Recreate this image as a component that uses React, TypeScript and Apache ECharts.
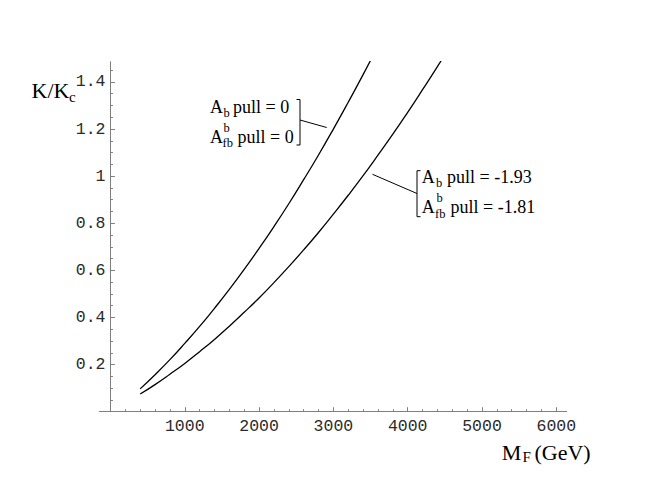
import React, { useEffect, useRef } from "react";
import * as echarts from "echarts";

// Curve "A_b pull = 0, A_fb^b pull = 0"
const massGeVPull0 = [400, 600, 800, 1000, 1200, 1400, 1600, 1800, 2000, 2200, 2400, 2600, 2800, 3000, 3200, 3400, 3600];
const kRatioPull0 = [0.097, 0.157, 0.221, 0.29, 0.362, 0.439, 0.519, 0.604, 0.693, 0.786, 0.883, 0.985, 1.09, 1.2, 1.314, 1.431, 1.553];

// Curve "A_b pull = -1.93, A_fb^b pull = -1.81"
const massGeVPullFit = [400, 600, 800, 1000, 1200, 1400, 1600, 1800, 2000, 2200, 2400, 2600, 2800, 3000, 3200, 3400, 3600, 3800, 4000, 4200, 4400, 4600];
const kRatioPullFit = [0.075, 0.115, 0.159, 0.205, 0.255, 0.307, 0.363, 0.422, 0.483, 0.548, 0.616, 0.687, 0.761, 0.839, 0.919, 1.002, 1.089, 1.178, 1.271, 1.367, 1.465, 1.567];

// Axis ticks
const xMajorTicks = [1000, 2000, 3000, 4000, 5000, 6000];
const xMinorTicks = [200, 400, 600, 800, 1200, 1400, 1600, 1800, 2200, 2400, 2600, 2800, 3200, 3400, 3600, 3800, 4200, 4400, 4600, 4800, 5200, 5400, 5600, 5800];
const yMajorTicks = [0.2, 0.4, 0.6, 0.8, 1, 1.2, 1.4];
const yMinorTicks = [0.05, 0.1, 0.15, 0.25, 0.3, 0.35, 0.45, 0.5, 0.55, 0.65, 0.7, 0.75, 0.85, 0.9, 0.95, 1.05, 1.1, 1.15, 1.25, 1.3, 1.35, 1.45];

const X_MIN = -150;
const X_MAX = 6140;
const Y_MIN = 0;
const Y_MAX = 1.486;

const GRID_LEFT = 99.3;
const GRID_WIDTH = 467.4;
// y axis sits at x = 0, inside the grid
const Y_AXIS_OFFSET = -((0 - X_MIN) / (X_MAX - X_MIN)) * GRID_WIDTH;

const AXIS_COLOR = "#808080";
const MONO = "'Liberation Mono', 'DejaVu Sans Mono', monospace";
const SERIF = "'Liberation Serif', 'DejaVu Serif', serif";

function txt(text: string, x: number, baseline: number, size: number) {
  return {
    type: "text",
    x,
    y: baseline - 0.34 * size,
    silent: true,
    style: {
      text,
      fill: "#000",
      font: `${size}px ${SERIF}`,
      textAlign: "left",
      textVerticalAlign: "middle",
    },
  };
}

function poly(points: number[][]) {
  return {
    type: "polyline",
    silent: true,
    shape: { points },
    style: { stroke: "#000", lineWidth: 1, fill: null },
  };
}

const plain = (v: number) => String(v);

export default function App() {
  const ref = useRef<HTMLDivElement>(null);

  useEffect(() => {
    if (!ref.current) return;
    const chart = echarts.init(ref.current, null, { renderer: "svg" });

    const mainFont = 18;
    const subFont = 12.5;
    const tickFont = { fontFamily: MONO, fontSize: 16.5, color: "#2a2a2a" };

    const option: any = {
      animation: false,
      backgroundColor: "#fff",
      grid: {
        left: GRID_LEFT,
        top: 61.7,
        width: GRID_WIDTH,
        height: 350,
        containLabel: false,
        outerBoundsMode: "none",
      },
      xAxis: [
        {
          type: "value",
          min: X_MIN,
          max: X_MAX,
          position: "bottom",
          axisLine: { show: true, onZero: false, lineStyle: { color: AXIS_COLOR, width: 1 } },
          axisTick: { show: true, inside: true, length: 4.5, customValues: xMajorTicks, lineStyle: { color: AXIS_COLOR, width: 1 } },
          axisLabel: { show: true, customValues: xMajorTicks, formatter: plain, margin: 6, ...tickFont },
          splitLine: { show: false },
        },
        {
          type: "value",
          min: X_MIN,
          max: X_MAX,
          position: "bottom",
          axisLine: { show: false, onZero: false },
          axisTick: { show: true, inside: true, length: 2.5, customValues: xMinorTicks, lineStyle: { color: AXIS_COLOR, width: 1 } },
          axisLabel: { show: false },
          splitLine: { show: false },
        },
      ],
      yAxis: [
        {
          type: "value",
          min: Y_MIN,
          max: Y_MAX,
          position: "left",
          offset: Y_AXIS_OFFSET,
          axisLine: { show: true, onZero: false, lineStyle: { color: AXIS_COLOR, width: 1 } },
          axisTick: { show: true, inside: true, length: 4.5, customValues: yMajorTicks, lineStyle: { color: AXIS_COLOR, width: 1 } },
          axisLabel: { show: true, customValues: yMajorTicks, formatter: plain, margin: 5, ...tickFont },
          splitLine: { show: false },
        },
        {
          type: "value",
          min: Y_MIN,
          max: Y_MAX,
          position: "left",
          offset: Y_AXIS_OFFSET,
          axisLine: { show: false, onZero: false },
          axisTick: { show: true, inside: true, length: 2.5, customValues: yMinorTicks, lineStyle: { color: AXIS_COLOR, width: 1 } },
          axisLabel: { show: false },
          splitLine: { show: false },
        },
      ],
      series: [
        {
          type: "line",
          name: "pull0",
          xAxisIndex: 0,
          yAxisIndex: 0,
          data: massGeVPull0.map((m, i) => [m, kRatioPull0[i]]),
          showSymbol: false,
          smooth: true,
          clip: true,
          silent: true,
          lineStyle: { color: "#000", width: 1.3 },
        },
        {
          type: "line",
          name: "pullFit",
          xAxisIndex: 0,
          yAxisIndex: 0,
          data: massGeVPullFit.map((m, i) => [m, kRatioPullFit[i]]),
          showSymbol: false,
          smooth: true,
          clip: true,
          silent: true,
          lineStyle: { color: "#000", width: 1.3 },
        },
      ],
      graphic: [
        // axis titles
        txt("K/K", 31.5, 98.3, 22),
        txt("c", 69, 102, 15),
        txt("M", 501.7, 460, 22),
        txt("F", 522.5, 462, 15),
        txt("(GeV)", 534.5, 460, 22),
        // annotation 1
        txt("A", 210, 113.3, mainFont),
        txt("b", 223.5, 117, subFont),
        txt("pull = 0", 233, 113.3, mainFont),
        txt("A", 210, 143, mainFont),
        txt("b", 223.5, 132, subFont),
        txt("fb", 222.5, 147.5, subFont),
        txt("pull = 0", 237.5, 143, mainFont),
        poly([[296.5, 99.5], [300, 99.5], [300, 145], [296.5, 145]]),
        poly([[300, 120], [326.7, 127.5]]),
        // annotation 2
        txt("A", 421.7, 183.3, mainFont),
        txt("b", 436, 187, subFont),
        txt("pull = -1.93", 447, 183.3, mainFont),
        txt("A", 421.7, 213.3, mainFont),
        txt("b", 436.5, 202, subFont),
        txt("fb", 435, 217.8, subFont),
        txt("pull = -1.81", 450.5, 213.3, mainFont),
        poly([[420.5, 170.7], [417, 170.7], [417, 216.7], [420.5, 216.7]]),
        poly([[372.5, 174.3], [417, 193.5]]),
      ],
    };

    chart.setOption(option);
    return () => {
      chart.dispose();
    };
  }, []);

  return (
    <div
      ref={ref}
      style={{ position: "fixed", left: 0, top: 0, width: 654, height: 498, background: "#fff" }}
    />
  );
}
